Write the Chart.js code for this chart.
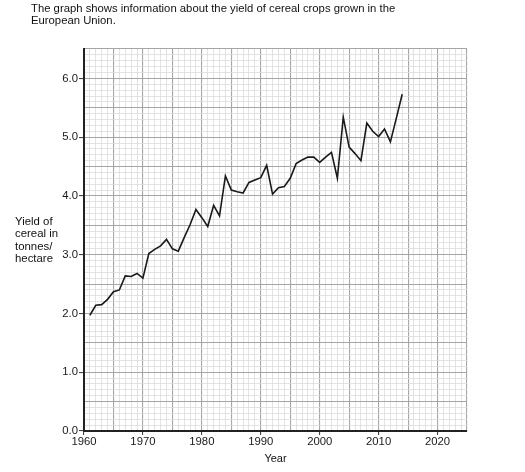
<!DOCTYPE html>
<html>
<head>
<meta charset="utf-8">
<script src="https://cdn.jsdelivr.net/npm/chart.js@4/dist/chart.umd.min.js"></script>
<style>
  html, body { margin: 0; padding: 0; background: #fff; }
  #wrap { position: relative; width: 525px; height: 472px; font-family: "Liberation Sans", Arial, sans-serif; color: #111; }
  #wrap canvas { position: absolute; left: 0; top: 0; }
  .txt { position: absolute; font-size: 11px; line-height: 12px; white-space: nowrap; }
  #heading { left: 31px; top: 2px; font-size: 11.3px; }
  #ytitle { left: 15px; top: 215px; line-height: 12.4px; font-size: 11.4px; }
  #xtitle { left: 0; width: 551px; text-align: center; top: 452px; }
</style>
</head>
<body>
<div id="wrap">
  <canvas id="chart" width="525" height="472"></canvas>
  <div class="txt" id="heading">The graph shows information about the yield of cereal crops grown in the<br>European Union.</div>
  <div class="txt" id="ytitle">Yield of<br>cereal in<br>tonnes/<br>hectare</div>
  <div class="txt" id="xtitle">Year</div>
</div>
<script>
// yield of cereal (tonnes/hectare)
const years = [
  1961, 1962, 1963, 1964, 1965, 1966, 1967, 1968, 1969, 1970,
  1971, 1972, 1973, 1974, 1975, 1976, 1977, 1978, 1979, 1980,
  1981, 1982, 1983, 1984, 1985, 1986, 1987, 1988, 1989, 1990,
  1991, 1992, 1993, 1994, 1995, 1996, 1997, 1998, 1999, 2000,
  2001, 2002, 2003, 2004, 2005, 2006, 2007, 2008, 2009, 2010,
  2011, 2012, 2013, 2014
];
const yieldValues = [
  1.97, 2.14, 2.15, 2.24, 2.37, 2.40, 2.64, 2.63, 2.68, 2.60,
  3.02, 3.09, 3.15, 3.26, 3.10, 3.06, 3.29, 3.51, 3.77, 3.63,
  3.48, 3.84, 3.66, 4.34, 4.10, 4.07, 4.05, 4.23, 4.27, 4.31,
  4.52, 4.03, 4.14, 4.16, 4.30, 4.55, 4.61, 4.66, 4.66, 4.57,
  4.66, 4.74, 4.30, 5.34, 4.83, 4.72, 4.60, 5.24, 5.10, 5.01,
  5.14, 4.92, 5.32, 5.73
];
const xRange = [1960, 2025];
const yRange = [0, 6.5];

const near = (v, step) => Math.abs(v / step - Math.round(v / step)) < 1e-6;

// graph paper: darker every 5 years / 0.5 t, faint in between
const gridColor = step => ctx => near(ctx.tick.value, step) ? '#a6a6a6' : '#dcdcdc';

new Chart(document.getElementById('chart'), {
  type: 'line',
  data: {
    datasets: [{
      data: years.map((y, i) => ({ x: y, y: yieldValues[i] })),
      borderColor: '#1a1a1a',
      borderWidth: 1.6,
      pointRadius: 0,
      tension: 0,
      fill: false,
    }],
  },
  options: {
    responsive: false,
    animation: false,
    events: [],
    layout: { padding: { top: 49, right: 58, left: 0, bottom: 0 } },
    plugins: { legend: { display: false }, tooltip: { enabled: false } },
    scales: {
      x: {
        type: 'linear',
        min: xRange[0], max: xRange[1],
        afterFit: s => { s.height = 41; },
        border: { color: '#222', width: 2 },
        grid: {
          color: gridColor(5),
          lineWidth: ctx => near(ctx.tick.value, 5) ? 1.1 : 0.8,
          tickLength: 4,
          tickColor: ctx => near(ctx.tick.value, 10) ? '#444' : 'rgba(0,0,0,0)',
        },
        ticks: {
          stepSize: 1,
          autoSkip: false,
          maxRotation: 0,
          padding: 0,
          color: '#1a1a1a',
          font: { family: '"Liberation Sans", Arial, sans-serif', size: 11.3 },
          callback: v => near(v, 10) ? String(Math.round(v)) : '',
        },
      },
      y: {
        min: yRange[0], max: yRange[1],
        afterFit: s => { s.width = 84; },
        border: { color: '#222', width: 2 },
        grid: {
          color: gridColor(0.5),
          lineWidth: ctx => near(ctx.tick.value, 0.5) ? 1.1 : 0.8,
          tickLength: 5,
          tickColor: ctx => near(ctx.tick.value, 1) ? '#444' : 'rgba(0,0,0,0)',
        },
        ticks: {
          stepSize: 0.1,
          autoSkip: false,
          padding: 1,
          color: '#1a1a1a',
          font: { family: '"Liberation Sans", Arial, sans-serif', size: 11.3 },
          callback: v => near(v, 1) ? v.toFixed(1) : '',
        },
      },
    },
  },
});
</script>
</body>
</html>
